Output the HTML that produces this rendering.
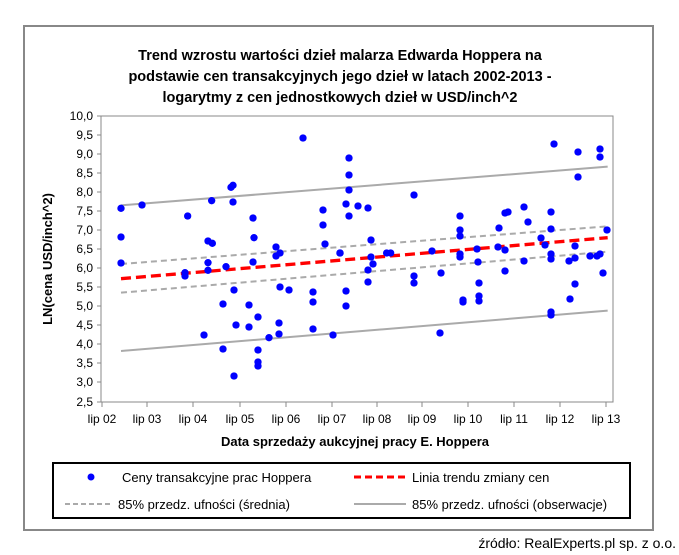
<!DOCTYPE html>
<html><head><meta charset="utf-8"><style>
body{margin:0;background:#fff;width:679px;height:555px;overflow:hidden}
svg{display:block;font-family:"Liberation Sans",sans-serif}
</style></head><body>
<svg width="679" height="555" viewBox="0 0 679 555">
<rect x="24" y="26" width="629" height="504" fill="#fff" stroke="#888" stroke-width="2"/>
<g font-weight="bold" font-size="14.5" text-anchor="middle" fill="#000">
<text x="340" y="60">Trend wzrostu wartości dzieł malarza Edwarda Hoppera na</text>
<text x="340" y="81">podstawie cen transakcyjnych jego dzieł w latach 2002-2013 -</text>
<text x="340" y="102">logarytmy z cen jednostkowych dzieł w USD/inch^2</text>
</g>
<rect x="101" y="116" width="512" height="286" fill="none" stroke="#888" stroke-width="1"/>
<g stroke="#888">
<line x1="97" y1="116" x2="101" y2="116"/><line x1="97" y1="135" x2="101" y2="135"/><line x1="97" y1="154" x2="101" y2="154"/><line x1="97" y1="173" x2="101" y2="173"/><line x1="97" y1="192" x2="101" y2="192"/><line x1="97" y1="211" x2="101" y2="211"/><line x1="97" y1="230" x2="101" y2="230"/><line x1="97" y1="249" x2="101" y2="249"/><line x1="97" y1="268" x2="101" y2="268"/><line x1="97" y1="287" x2="101" y2="287"/><line x1="97" y1="306" x2="101" y2="306"/><line x1="97" y1="325" x2="101" y2="325"/><line x1="97" y1="344" x2="101" y2="344"/><line x1="97" y1="363" x2="101" y2="363"/><line x1="97" y1="382" x2="101" y2="382"/><line x1="97" y1="402" x2="101" y2="402"/>
</g>
<g font-size="12" text-anchor="end" fill="#000">
<text x="93" y="120">10,0</text><text x="93" y="139">9,5</text><text x="93" y="158">9,0</text><text x="93" y="177">8,5</text><text x="93" y="196">8,0</text><text x="93" y="215">7,5</text><text x="93" y="234">7,0</text><text x="93" y="253">6,5</text><text x="93" y="272">6,0</text><text x="93" y="291">5,5</text><text x="93" y="310">5,0</text><text x="93" y="329">4,5</text><text x="93" y="348">4,0</text><text x="93" y="367">3,5</text><text x="93" y="386">3,0</text><text x="93" y="406">2,5</text>
</g>
<g stroke="#888">
<line x1="102" y1="402" x2="102" y2="407"/><line x1="147" y1="402" x2="147" y2="407"/><line x1="193" y1="402" x2="193" y2="407"/><line x1="240" y1="402" x2="240" y2="407"/><line x1="286" y1="402" x2="286" y2="407"/><line x1="332" y1="402" x2="332" y2="407"/><line x1="377" y1="402" x2="377" y2="407"/><line x1="422" y1="402" x2="422" y2="407"/><line x1="468" y1="402" x2="468" y2="407"/><line x1="514" y1="402" x2="514" y2="407"/><line x1="560" y1="402" x2="560" y2="407"/><line x1="606" y1="402" x2="606" y2="407"/>
</g>
<g font-size="12" text-anchor="middle" fill="#000">
<text x="102" y="423">lip 02</text><text x="147" y="423">lip 03</text><text x="193" y="423">lip 04</text><text x="240" y="423">lip 05</text><text x="286" y="423">lip 06</text><text x="332" y="423">lip 07</text><text x="377" y="423">lip 08</text><text x="422" y="423">lip 09</text><text x="468" y="423">lip 10</text><text x="514" y="423">lip 11</text><text x="560" y="423">lip 12</text><text x="606" y="423">lip 13</text>
</g>
<text x="355" y="446" font-size="13" font-weight="bold" text-anchor="middle">Data sprzedaży aukcyjnej pracy E. Hoppera</text>
<text transform="translate(52,259) rotate(-90)" font-size="13" font-weight="bold" text-anchor="middle">LN(cena USD/inch^2)</text>
<g transform="translate(60,100) scale(0.33333)" fill="none">
<line x1="183" y1="316" x2="1643" y2="200" stroke="#aaa" stroke-width="6"/>
<line x1="183" y1="753" x2="1643" y2="632" stroke="#aaa" stroke-width="6"/>
<line x1="183" y1="492" x2="1643" y2="379" stroke="#aaa" stroke-width="6" stroke-dasharray="18,12"/>
<line x1="183" y1="578" x2="1643" y2="455" stroke="#aaa" stroke-width="6" stroke-dasharray="18,12"/>
<line x1="183" y1="536" x2="1643" y2="413" stroke="#f00" stroke-width="10" stroke-dasharray="30,15"/>
</g>
<g transform="translate(60,100) scale(0.33333)" fill="#00f">
<circle cx="183" cy="325" r="11"/><circle cx="183" cy="411" r="11"/><circle cx="183" cy="489" r="11"/><circle cx="246" cy="315" r="11"/><circle cx="383" cy="348" r="11"/><circle cx="375" cy="518" r="11"/><circle cx="375" cy="528" r="11"/><circle cx="455" cy="302" r="11"/><circle cx="444" cy="423" r="11"/><circle cx="457" cy="430" r="11"/><circle cx="444" cy="488" r="11"/><circle cx="444" cy="511" r="11"/><circle cx="432" cy="705" r="11"/><circle cx="498" cy="500" r="11"/><circle cx="489" cy="612" r="11"/><circle cx="489" cy="747" r="11"/><circle cx="513" cy="262" r="11"/><circle cx="519" cy="256" r="11"/><circle cx="519" cy="306" r="11"/><circle cx="522" cy="570" r="11"/><circle cx="528" cy="675" r="11"/><circle cx="522" cy="828" r="11"/><circle cx="567" cy="615" r="11"/><circle cx="567" cy="681" r="11"/><circle cx="579" cy="354" r="11"/><circle cx="582" cy="413" r="11"/><circle cx="579" cy="486" r="11"/><circle cx="594" cy="651" r="11"/><circle cx="594" cy="750" r="11"/><circle cx="594" cy="786" r="11"/><circle cx="594" cy="798" r="11"/><circle cx="627" cy="713" r="11"/><circle cx="648" cy="441" r="11"/><circle cx="648" cy="468" r="11"/><circle cx="660" cy="459" r="11"/><circle cx="660" cy="561" r="11"/><circle cx="657" cy="669" r="11"/><circle cx="657" cy="702" r="11"/><circle cx="687" cy="570" r="11"/><circle cx="729" cy="114" r="11"/><circle cx="759" cy="576" r="11"/><circle cx="759" cy="606" r="11"/><circle cx="759" cy="687" r="11"/><circle cx="789" cy="330" r="11"/><circle cx="789" cy="375" r="11"/><circle cx="795" cy="432" r="11"/><circle cx="819" cy="705" r="11"/><circle cx="840" cy="459" r="11"/><circle cx="858" cy="573" r="11"/><circle cx="858" cy="618" r="11"/><circle cx="858" cy="312" r="11"/><circle cx="867" cy="174" r="11"/><circle cx="867" cy="225" r="11"/><circle cx="867" cy="270" r="11"/><circle cx="867" cy="348" r="11"/><circle cx="894" cy="318" r="11"/>
</g>
<g transform="translate(340,100) scale(0.33333)" fill="#00f">
<circle cx="0" cy="459" r="11"/><circle cx="84" cy="324" r="11"/><circle cx="93" cy="420" r="11"/><circle cx="93" cy="471" r="11"/><circle cx="99" cy="492" r="11"/><circle cx="84" cy="510" r="11"/><circle cx="84" cy="546" r="11"/><circle cx="140" cy="459" r="11"/><circle cx="152" cy="459" r="11"/><circle cx="222" cy="285" r="11"/><circle cx="222" cy="528" r="11"/><circle cx="222" cy="549" r="11"/><circle cx="276" cy="453" r="11"/><circle cx="303" cy="519" r="11"/><circle cx="300" cy="699" r="11"/><circle cx="360" cy="348" r="11"/><circle cx="360" cy="390" r="11"/><circle cx="360" cy="408" r="11"/><circle cx="360" cy="462" r="11"/><circle cx="360" cy="471" r="11"/><circle cx="369" cy="600" r="11"/><circle cx="369" cy="606" r="11"/><circle cx="411" cy="447" r="11"/><circle cx="414" cy="486" r="11"/><circle cx="417" cy="549" r="11"/><circle cx="417" cy="588" r="11"/><circle cx="417" cy="603" r="11"/><circle cx="477" cy="384" r="11"/><circle cx="474" cy="441" r="11"/><circle cx="495" cy="339" r="11"/><circle cx="504" cy="336" r="11"/><circle cx="495" cy="450" r="11"/><circle cx="495" cy="513" r="11"/><circle cx="552" cy="321" r="11"/><circle cx="564" cy="366" r="11"/><circle cx="552" cy="483" r="11"/><circle cx="603" cy="414" r="11"/><circle cx="615" cy="435" r="11"/><circle cx="633" cy="336" r="11"/><circle cx="633" cy="387" r="11"/><circle cx="633" cy="462" r="11"/><circle cx="633" cy="477" r="11"/><circle cx="633" cy="636" r="11"/><circle cx="633" cy="645" r="11"/><circle cx="642" cy="132" r="11"/><circle cx="687" cy="483" r="11"/><circle cx="690" cy="597" r="11"/><circle cx="705" cy="438" r="11"/><circle cx="705" cy="474" r="11"/><circle cx="705" cy="552" r="11"/><circle cx="714" cy="156" r="11"/><circle cx="714" cy="231" r="11"/><circle cx="750" cy="468" r="11"/><circle cx="771" cy="468" r="11"/><circle cx="780" cy="462" r="11"/><circle cx="780" cy="147" r="11"/><circle cx="780" cy="171" r="11"/><circle cx="789" cy="519" r="11"/><circle cx="801" cy="390" r="11"/>
</g>
<rect x="53" y="463" width="577" height="55" fill="#fff" stroke="#000" stroke-width="2"/>
<circle cx="91" cy="477" r="3.5" fill="#00f"/>
<g font-size="13" fill="#000">
<text x="122" y="482">Ceny transakcyjne prac Hoppera</text>
<text x="412" y="482">Linia trendu zmiany cen</text>
<text x="118" y="509">85% przedz. ufności (średnia)</text>
<text x="412" y="509">85% przedz. ufności (obserwacje)</text>
</g>
<line x1="354" y1="477" x2="408" y2="477" stroke="#f00" stroke-width="3" stroke-dasharray="7,4"/>
<line x1="65" y1="504" x2="113" y2="504" stroke="#aaa" stroke-width="2" stroke-dasharray="5,3"/>
<line x1="354" y1="504" x2="406" y2="504" stroke="#aaa" stroke-width="2"/>
<text x="676" y="548" font-size="14" text-anchor="end" fill="#000">źródło: RealExperts.pl sp. z o.o.</text>
</svg>
</body></html>
